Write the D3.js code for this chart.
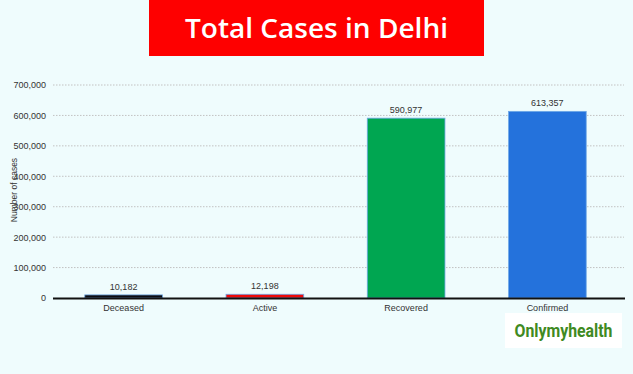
<!DOCTYPE html>
<html>
<head>
<meta charset="utf-8">
<script src="https://cdn.jsdelivr.net/npm/d3@7"></script>
<style>
  html, body { margin: 0; padding: 0; background: #effcfd; }
  svg { display: block; font-family: "Liberation Sans", Arial, sans-serif; }
</style>
</head>
<body>
<svg id="chart" width="633" height="374"></svg>
<script>
const categories = ["Deceased", "Active", "Recovered", "Confirmed"];
const values = [10182, 12198, 590977, 613357];
const barColors = ["#0d0d12", "#ee0a0a", "#00a651", "#2472dc"];
const yTicks = [0, 100000, 200000, 300000, 400000, 500000, 600000, 700000];

const fmt = d3.format(",");
const svg = d3.select("#chart");
const W = 633, H = 374;

svg.append("rect").attr("width", W).attr("height", H).attr("fill", "#effcfd");

// title banner
svg.append("rect").attr("x", 149).attr("y", 0).attr("width", 335).attr("height", 56).attr("fill", "#fe0000");
svg.append("text").attr("x", 316.5).attr("y", 38).attr("text-anchor", "middle")
  .attr("fill", "#fff").attr("font-family", "'Open Sans', sans-serif").attr("font-weight", 600)
  .attr("font-size", 27).attr("textLength", 263).attr("lengthAdjust", "spacingAndGlyphs")
  .text("Total Cases in Delhi");

const x = d3.scaleBand().domain(categories).range([53, 618]).paddingInner(0.45).paddingOuter(0.225);
const y = d3.scaleLinear().domain([0, 700000]).range([298, 85]);

// gridlines
svg.append("g").selectAll("line").data(yTicks.slice(1)).join("line")
  .attr("x1", 53).attr("x2", 624)
  .attr("y1", (d) => y(d)).attr("y2", (d) => y(d))
  .attr("stroke", "#c2c2c2").attr("stroke-width", 1).attr("stroke-dasharray", "1.5,1.5");

const yAxis = svg.append("g").attr("transform", "translate(53,0)")
  .call(d3.axisLeft(y).tickValues(yTicks).tickFormat(fmt).tickSize(0).tickPadding(7));
yAxis.select(".domain").remove();
yAxis.selectAll("text").attr("font-size", 9).attr("fill", "#333").attr("font-family", "'Liberation Sans', Arial, sans-serif");

svg.append("text").attr("transform", "translate(17,190) rotate(-90)")
  .attr("text-anchor", "middle").attr("font-size", 8.5).attr("fill", "#333").text("Number of cases");

// bars
svg.append("g").selectAll("rect").data(categories).join("rect")
  .attr("x", (d) => x(d))
  .attr("width", x.bandwidth())
  .attr("y", (d, i) => y(values[i]))
  .attr("height", (d, i) => y(0) - y(values[i]))
  .attr("fill", (d, i) => barColors[i])
  .attr("stroke", "#6fa8e6").attr("stroke-width", 0.8);

svg.append("g").selectAll("text").data(categories).join("text")
  .attr("x", (d) => x(d) + x.bandwidth() / 2)
  .attr("y", (d, i) => y(values[i]) - 5)
  .attr("text-anchor", "middle").attr("font-size", 9).attr("fill", "#333")
  .text((d, i) => fmt(values[i]));

// baseline
svg.append("line").attr("x1", 53).attr("x2", 625).attr("y1", 298.5).attr("y2", 298.5)
  .attr("stroke", "#111").attr("stroke-width", 2);

const xAxis = svg.append("g").attr("transform", "translate(0,299)")
  .call(d3.axisBottom(x).tickSize(0).tickPadding(6));
xAxis.select(".domain").remove();
xAxis.selectAll("text").attr("font-size", 9).attr("fill", "#333").attr("font-family", "'Liberation Sans', Arial, sans-serif");

// logo
svg.append("rect").attr("x", 505).attr("y", 313).attr("width", 117).attr("height", 35).attr("fill", "#fff");
svg.append("text").attr("x", 563.5).attr("y", 337).attr("text-anchor", "middle")
  .attr("font-family", "'Roboto', sans-serif").attr("font-weight", 700)
  .attr("font-size", 18).attr("fill", "#3f8a22").attr("textLength", 98).attr("lengthAdjust", "spacingAndGlyphs")
  .text("Onlymyhealth");
</script>
</body>
</html>
